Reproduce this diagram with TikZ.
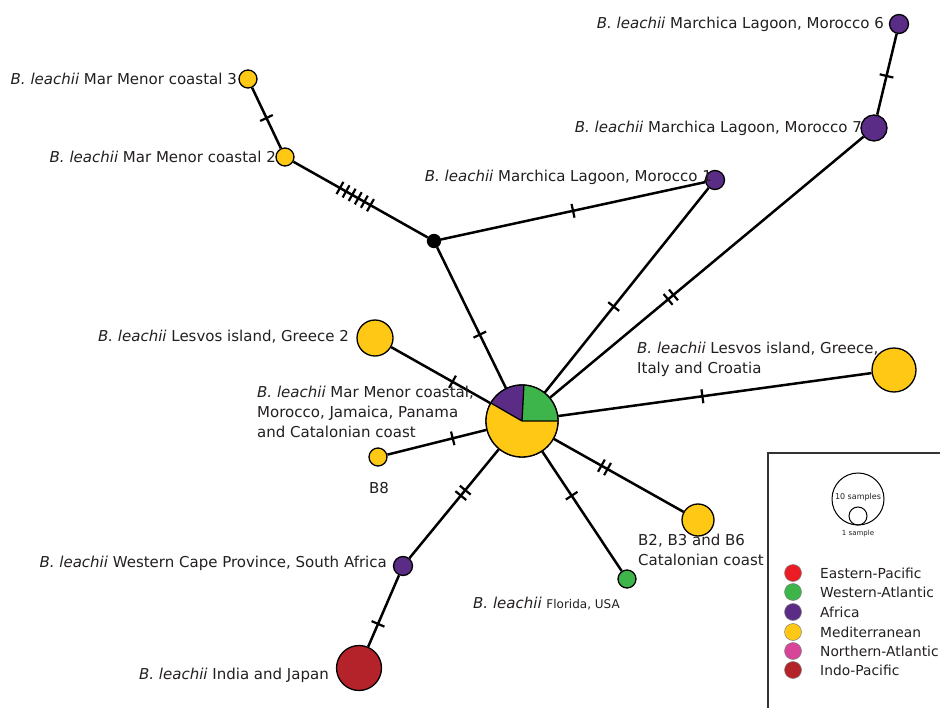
\documentclass[tikz,border=0pt]{standalone}
\usepackage{fontspec}
\setmainfont{DejaVu Sans}
\usetikzlibrary{decorations.markings}
\definecolor{myY}{HTML}{FFC814}
\definecolor{myP}{HTML}{5B2C86}
\definecolor{myG}{HTML}{3DB54A}
\definecolor{myR}{HTML}{B5232A}
\definecolor{myER}{HTML}{EC1C24}
\definecolor{myPk}{HTML}{D8449A}
\definecolor{txt}{HTML}{231F20}
\tikzset{
  hap/.style={circle, draw=black, line width=1.3pt, inner sep=0pt},
  edge/.style={line width=2.5pt, draw=black},
  lab/.style={text=txt, font=\fontsize{15}{20}\selectfont, inner sep=0pt},
  leg/.style={text=txt, font=\fontsize{13.8}{16}\selectfont, inner sep=0pt, anchor=west},
  legdot/.style={circle, draw=black!50, line width=0.5pt, inner sep=0pt, minimum size=17},
  hatch/.style 2 args={postaction={decorate, decoration={markings,
    mark=at position #1 with {\foreach \k in {1,...,#2}{\draw[line width=2.2pt] ({(\k-(#2+1)/2)*7},-7) -- ++(0,14);}}}}}
}
\begin{document}
\begin{tikzpicture}[x=1pt,y=1pt]
\clip (0,0) rectangle (940,-708);
\fill[white] (0,0) rectangle (940,-708);

% haplotype nodes
\node[hap, fill=myY, minimum size=18] (mm3) at (248,-79) {};
\node[hap, fill=myY, minimum size=18] (mm2) at (285,-157) {};
\node[hap, fill=black, minimum size=13] (J) at (434,-241) {};
\node[hap, fill=myP, minimum size=19] (m6) at (899,-24) {};
\node[hap, fill=myP, minimum size=26] (m7) at (874,-128) {};
\node[hap, fill=myP, minimum size=19] (m1) at (715,-180) {};
\node[hap, fill=myY, minimum size=36] (g2) at (375,-338) {};
\node[hap, fill=myY, minimum size=44] (lc) at (894,-370) {};
\node[hap, fill=myY, minimum size=72] (c) at (522,-421) {};
\node[hap, fill=myY, minimum size=18] (b8) at (378,-457) {};
\node[hap, fill=myY, minimum size=32] (b2) at (698,-520) {};
\node[hap, fill=myG, minimum size=18] (fl) at (627,-579) {};
\node[hap, fill=myP, minimum size=19] (wc) at (403,-566) {};
\node[hap, fill=myR, minimum size=45] (ij) at (359,-668) {};

% edges with mutation hatches
\draw[edge, hatch={0.5}{1}] (mm3) -- (mm2);
\draw[edge, hatch={0.46}{6}] (mm2) -- (J);
\draw[edge, hatch={0.5}{1}] (J) -- (m1);
\draw[edge, hatch={0.62}{1}] (J) -- (c);
\draw[edge, hatch={0.42}{1}] (c) -- (m1);
\draw[edge, hatch={0.385}{2}] (c) -- (m7);
\draw[edge, hatch={0.48}{1}] (m7) -- (m6);
\draw[edge, hatch={0.62}{1}] (g2) -- (c);
\draw[edge, hatch={0.46}{1}] (c) -- (lc);
\draw[edge, hatch={0.66}{1}] (b8) -- (c);
\draw[edge, hatch={0.4}{2}] (c) -- (wc);
\draw[edge, hatch={0.68}{1}] (wc) -- (ij);
\draw[edge, hatch={0.37}{1}] (c) -- (fl);
\draw[edge, hatch={0.39}{2}] (c) -- (b2);

% central pie
\fill[myG] (c.center) -- ++(0:36) arc[start angle=0, end angle=87, radius=36] -- cycle;
\fill[myP] (c.center) -- ++(87:36) arc[start angle=87, end angle=150, radius=36] -- cycle;
\fill[myY] (c.center) -- ++(150:36) arc[start angle=150, end angle=360, radius=36] -- cycle;
\draw[line width=1.3pt] (c.center) -- ++(0:36) (c.center) -- ++(87:36) (c.center) -- ++(150:36);
\draw[line width=1.3pt] (c.center) circle[radius=36];

% labels
\node[lab, anchor=east] (l1) at (237,-79) {\textit{B. leachii} Mar Menor coastal 3};
\node[lab, anchor=east] (l2) at (276,-157) {\textit{B. leachii} Mar Menor coastal 2};
\node[lab, anchor=east] (l3) at (884,-24) {\textit{B. leachii} Marchica Lagoon, Morocco 6};
\node[lab, anchor=east] (l4) at (862,-128) {\textit{B. leachii} Marchica Lagoon, Morocco 7};
\node[lab, anchor=east] (l5) at (712,-177) {\textit{B. leachii} Marchica Lagoon, Morocco 1};
\node[lab, anchor=east] (l6) at (349,-337) {\textit{B. leachii} Lesvos island, Greece 2};
\node[lab, anchor=west, align=left] (l7) at (637,-359) {\textit{B. leachii} Lesvos island, Greece,\\Italy and Croatia};
\node[lab, anchor=west, align=left] (l8) at (257,-412) {\textit{B. leachii} Mar Menor coastal,\\Morocco, Jamaica, Panama\\and Catalonian coast};
\node[lab] (l9) at (379,-488) {B8};
\node[lab, anchor=west, align=left] (l10) at (638,-550) {B2, B3 and B6\\Catalonian coast};
\node[lab, anchor=west] (l11) at (473,-603) {\textit{B. leachii} {\fontsize{12}{14}\selectfont Florida, USA}};
\node[lab, anchor=east] (l12) at (387,-563) {\textit{B. leachii} Western Cape Province, South Africa};
\node[lab, anchor=east] (l13) at (329,-675) {\textit{B. leachii} India and Japan};

% legend
\draw[line width=1.2pt, black!80] (768,-453) rectangle (960,-730);
\node[circle, draw=black, line width=1pt, minimum size=52, inner sep=0pt] (big) at (858,-499) {};
\node[circle, draw=black, line width=1pt, minimum size=18, inner sep=0pt] (small) at (858,-516) {};
\node[font=\fontsize{8}{9}\selectfont, text=txt, inner sep=0pt] (t10) at (858,-497) {10 samples};
\node[font=\fontsize{7}{8}\selectfont, text=txt, inner sep=0pt] (t1) at (858,-534) {1 sample};
\node[legdot, fill=myER] (d1) at (793,-573) {};
\node[legdot, fill=myG] (d2) at (793,-592) {};
\node[legdot, fill=myP] (d3) at (793,-612) {};
\node[legdot, fill=myY] (d4) at (793,-632) {};
\node[legdot, fill=myPk] (d5) at (793,-651) {};
\node[legdot, fill=myR] (d6) at (793,-670) {};
\node[leg] (e1) at (820,-573) {Eastern-Pacific};
\node[leg] (e2) at (820,-592) {Western-Atlantic};
\node[leg] (e3) at (820,-612) {Africa};
\node[leg] (e4) at (820,-632) {Mediterranean};
\node[leg] (e5) at (820,-651) {Northern-Atlantic};
\node[leg] (e6) at (820,-670) {Indo-Pacific};
\end{tikzpicture}
\end{document}
